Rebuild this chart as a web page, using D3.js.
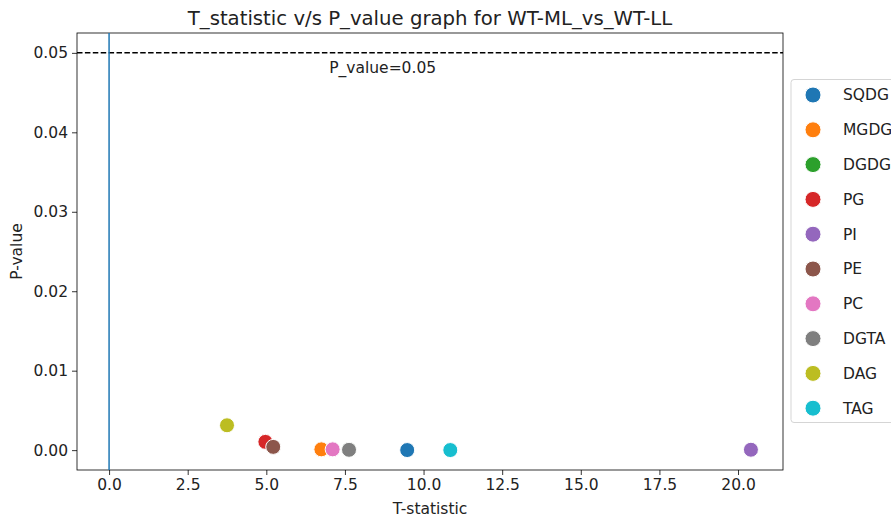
<!DOCTYPE html>
<html>
<head>
<meta charset="utf-8">
<script src="https://cdn.jsdelivr.net/npm/d3@7"></script>
<style>
  html, body { margin: 0; padding: 0; background: #fff; }
  svg { display: block; font-family: "DejaVu Sans", sans-serif; }
</style>
</head>
<body>
<svg id="chart" width="891" height="519"></svg>
<script>
// Lipid classes and their test results
const lipids = ["SQDG", "MGDG", "DGDG", "PG", "PI", "PE", "PC", "DGTA", "DAG", "TAG"];
const tStatistic = [9.48, 6.75, 7.63, 4.97, 20.41, 5.22, 7.11, 7.63, 3.75, 10.85];
const pValue = [0.00001, 0.0001, 0.00005, 0.00104, 0.00005, 0.00041, 0.0001, 0.00004, 0.00313, 0.00001];
const colors = ["#1f77b4", "#ff7f0e", "#2ca02c", "#d62728", "#9467bd", "#8c564b", "#e377c2", "#7f7f7f", "#bcbd22", "#17becf"];
const xTicks = [0, 2.5, 5, 7.5, 10, 12.5, 15, 17.5, 20];
const yTicks = [0, 0.01, 0.02, 0.03, 0.04, 0.05];
const threshold = 0.05;

const FS = "15.5px";      // tick, label and legend text
const TITLE_FS = "19.7px";

const svg = d3.select("#chart");
const plot = { left: 77, top: 33, right: 783, bottom: 470 };

const x = d3.scaleLinear().domain([-1.02, 21.43]).range([plot.left, plot.right]);
const y = d3.scaleLinear().domain([-0.0025, 0.0525]).range([plot.bottom, plot.top]);

// Axes
const xAxis = svg.append("g")
  .attr("transform", `translate(0,${plot.bottom})`)
  .call(d3.axisBottom(x).tickValues(xTicks).tickFormat(d3.format(".1f")).tickSizeOuter(0).tickSize(5).tickPadding(4));
const yAxis = svg.append("g")
  .attr("transform", `translate(${plot.left},0)`)
  .call(d3.axisLeft(y).tickValues(yTicks).tickFormat(d3.format(".2f")).tickSizeOuter(0).tickSize(5).tickPadding(4));
[xAxis, yAxis].forEach(g => {
  g.select(".domain").remove();
  g.selectAll("text").attr("font-size", FS).attr("fill", "#222").attr("font-family", "DejaVu Sans");
  g.selectAll("line").attr("stroke", "#000").attr("stroke-width", 0.8);
});

// Frame
svg.append("rect")
  .attr("x", plot.left).attr("y", plot.top)
  .attr("width", plot.right - plot.left).attr("height", plot.bottom - plot.top)
  .attr("fill", "none").attr("stroke", "#000").attr("stroke-width", 0.8);

// Clip area for lines and points
svg.append("clipPath").attr("id", "clip").append("rect")
  .attr("x", plot.left).attr("y", plot.top)
  .attr("width", plot.right - plot.left).attr("height", plot.bottom - plot.top);
const area = svg.append("g").attr("clip-path", "url(#clip)");

// Significance threshold
area.append("line")
  .attr("x1", plot.left).attr("x2", plot.right)
  .attr("y1", y(threshold)).attr("y2", y(threshold))
  .attr("stroke", "#000").attr("stroke-width", 1.5).attr("stroke-dasharray", "5.5,2.4");

// Zero t-statistic line
area.append("line")
  .attr("x1", x(0)).attr("x2", x(0))
  .attr("y1", plot.top).attr("y2", plot.bottom)
  .attr("stroke", "#1f77b4").attr("stroke-width", 1.5);

svg.append("text")
  .attr("x", x(7)).attr("y", y(0.0475))
  .attr("font-size", FS).attr("fill", "#222")
  .text("P_value=0.05");

// Points
area.selectAll("circle.pt")
  .data(lipids.map((name, i) => ({ name, t: tStatistic[i], p: pValue[i], c: colors[i] })))
  .join("circle")
  .attr("class", "pt")
  .attr("cx", d => x(d.t)).attr("cy", d => y(d.p))
  .attr("r", 7.5)
  .attr("fill", d => d.c)
  .attr("stroke", "#fff").attr("stroke-width", 1);

// Titles
svg.append("text")
  .attr("x", (plot.left + plot.right) / 2).attr("y", 25)
  .attr("text-anchor", "middle").attr("font-size", TITLE_FS).attr("fill", "#222")
  .text("T_statistic v/s P_value graph for WT-ML_vs_WT-LL");
svg.append("text")
  .attr("x", (plot.left + plot.right) / 2).attr("y", 514)
  .attr("text-anchor", "middle").attr("font-size", FS).attr("fill", "#222")
  .text("T-statistic");
svg.append("text")
  .attr("transform", `translate(22,${(plot.top + plot.bottom) / 2}) rotate(-90)`)
  .attr("text-anchor", "middle").attr("font-size", FS).attr("fill", "#222")
  .text("P-value");

// Legend
const legend = svg.append("g");
legend.append("rect")
  .attr("x", 791).attr("y", 79.5).attr("width", 120).attr("height", 343)
  .attr("rx", 3).attr("fill", "#fff").attr("stroke", "#d5d5d5").attr("stroke-width", 1);
const rows = legend.selectAll("g.row").data(lipids).join("g")
  .attr("class", "row")
  .attr("transform", (d, i) => `translate(0,${95 + i * 34.8})`);
rows.append("circle").attr("cx", 813).attr("cy", 0).attr("r", 8)
  .attr("fill", (d, i) => colors[i]).attr("stroke", "#fff").attr("stroke-width", 1);
rows.append("text").attr("x", 843).attr("y", 0).attr("dy", "0.35em")
  .attr("font-size", FS).attr("fill", "#222").text(d => d);
</script>
</body>
</html>
